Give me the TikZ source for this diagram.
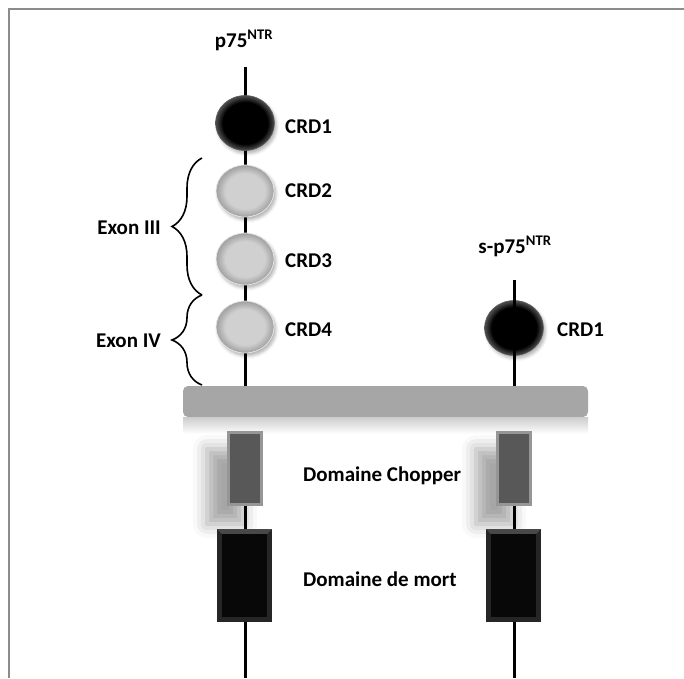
\documentclass[tikz,border=0pt]{standalone}
\usepackage{fontspec}
\setmainfont{Carlito}
\usetikzlibrary{shapes.geometric,shadows.blur,decorations.pathreplacing}

\definecolor{framegray}{RGB}{140,140,140}
\definecolor{memgray}{RGB}{166,166,166}
\definecolor{crdlight}{RGB}{208,208,208}
\definecolor{crdedge}{RGB}{165,165,165}
\definecolor{darkrim}{RGB}{75,75,75}
\definecolor{chopfill}{RGB}{88,88,88}
\definecolor{chopedge}{RGB}{150,150,150}
\definecolor{deathtop}{RGB}{72,72,72}
\definecolor{deathside}{RGB}{38,38,38}
\definecolor{deathfill}{RGB}{8,8,8}

% flat centre with a darker bevelled rim (node border sits at 25bp)
\pgfdeclareradialshading{crdgrayshade}{\pgfpoint{0bp}{0bp}}{%
  color(0bp)=(crdlight); color(17bp)=(crdlight); color(24bp)=(crdedge); color(50bp)=(crdedge)}
\pgfdeclareradialshading{crddarkshade}{\pgfpoint{0bp}{0bp}}{%
  color(0bp)=(black); color(19bp)=(black); color(24.5bp)=(darkrim); color(50bp)=(darkrim)}

\tikzset{
  lbl/.style={font=\fontsize{21}{24}\selectfont\bfseries, inner sep=0pt},
  stalk/.style={line width=3pt, black},
  crddark/.style={ellipse, minimum width=59, minimum height=55, inner sep=0pt,
    shading=crddarkshade, draw={rgb,255:red,95;green,95;blue,95}, line width=0.5pt,
    blur shadow={shadow xshift=2pt, shadow yshift=-3pt, shadow blur radius=3pt, shadow opacity=30}},
  crdgray/.style={ellipse, minimum width=58, minimum height=52, inner sep=0pt,
    shading=crdgrayshade, draw={rgb,255:red,232;green,232;blue,232}, line width=0.7pt,
    blur shadow={shadow xshift=2pt, shadow yshift=-3pt, shadow blur radius=3pt, shadow opacity=30}},
  membrane/.style={rectangle, rounded corners=5pt, fill=memgray,
    minimum width=405, minimum height=31, inner sep=0pt},
  chopbox/.style={rectangle, minimum width=36, minimum height=75, inner sep=0pt,
    fill=chopedge,
    blur shadow={shadow xshift=-20pt, shadow yshift=-18pt, shadow blur radius=14pt, shadow opacity=35},
    path picture={\fill[chopfill]
      ([shift={(3pt,-3pt)}]path picture bounding box.north west) rectangle
      ([shift={(-3pt,3pt)}]path picture bounding box.south east);}},
  deathbox/.style={rectangle, minimum width=55, minimum height=93, inner sep=0pt,
    fill=deathside,
    path picture={
      \fill[deathtop] (path picture bounding box.north west) --
        (path picture bounding box.north east) --
        ([shift={(-5pt,-5pt)}]path picture bounding box.north east) --
        ([shift={(5pt,-5pt)}]path picture bounding box.north west) -- cycle;
      \fill[deathfill]
        ([shift={(5pt,-5pt)}]path picture bounding box.north west) rectangle
        ([shift={(-5pt,5pt)}]path picture bounding box.south east);}},
  bracepath/.style={decorate, decoration={brace, amplitude=30pt, aspect=0.5},
    line width=1.6pt, black},
}

\begin{document}
\begin{tikzpicture}[x=1pt, y=-1pt]
\useasboundingbox (0,0) rectangle (684,678);

% outer frame (top and left edges)
\draw[framegray, line width=2pt] (9,678) -- (9,9) -- (684,9);

% ---------- full-length receptor p75NTR ----------
\coordinate (Ltop) at (245,67);
\coordinate (Lbot) at (245,678);
\draw[stalk] (Ltop) -- (Lbot);

\node[lbl, anchor=base] (p75) at (244,47) {p75\textsuperscript{NTR}};

\node[crddark] (L1) at (245,123) {};
\node[crdgray] (L2) at (245,191) {};
\node[crdgray] (L3) at (245,259) {};
\node[crdgray] (L4) at (245,327) {};

\node[lbl, anchor=west] (tL1) at (285,127) {CRD1};
\node[lbl, anchor=west] (tL2) at (285,191) {CRD2};
\node[lbl, anchor=west] (tL3) at (285,261) {CRD3};
\node[lbl, anchor=west] (tL4) at (285,330) {CRD4};

% exon braces
\coordinate (b1top) at (202,158);
\coordinate (b1bot) at (202,295);
\coordinate (b2bot) at (202,385);
\draw[bracepath] (b1bot) -- (b1top);
\draw[bracepath] (b2bot) -- (b1bot);
\node[lbl, anchor=east] (ex3) at (161,228) {Exon III};
\node[lbl, anchor=east] (ex4) at (161,341) {Exon IV};

% ---------- short isoform s-p75NTR ----------
\coordinate (Rtop) at (514,280);
\coordinate (Rbot) at (514,678);
\node[crddark] (R1) at (514,328) {};
\draw[stalk] (Rtop) -- (Rbot);
\node[lbl, anchor=base] (sp75) at (515,253) {s-p75\textsuperscript{NTR}};
\node[lbl, anchor=west] (tR1) at (557,330) {CRD1};

% ---------- membrane ----------
\node[membrane] (mem) at (385.5,401.5) {};
\shade[top color=gray!40, bottom color=white]
  (183,417) rectangle (588,434);

% ---------- intracellular domains ----------
\node[chopbox] (Lchop) at (245,468.5) {};
\node[chopbox] (Rchop) at (514,468.5) {};
\node[deathbox] (Ldeath) at (244.5,575.5) {};
\node[deathbox] (Rdeath) at (513.5,575.5) {};

\node[lbl, anchor=west] (tchop) at (303,476) {Domaine Chopper};
\node[lbl, anchor=west] (tmort) at (303,579) {Domaine de mort};
\end{tikzpicture}
\end{document}
